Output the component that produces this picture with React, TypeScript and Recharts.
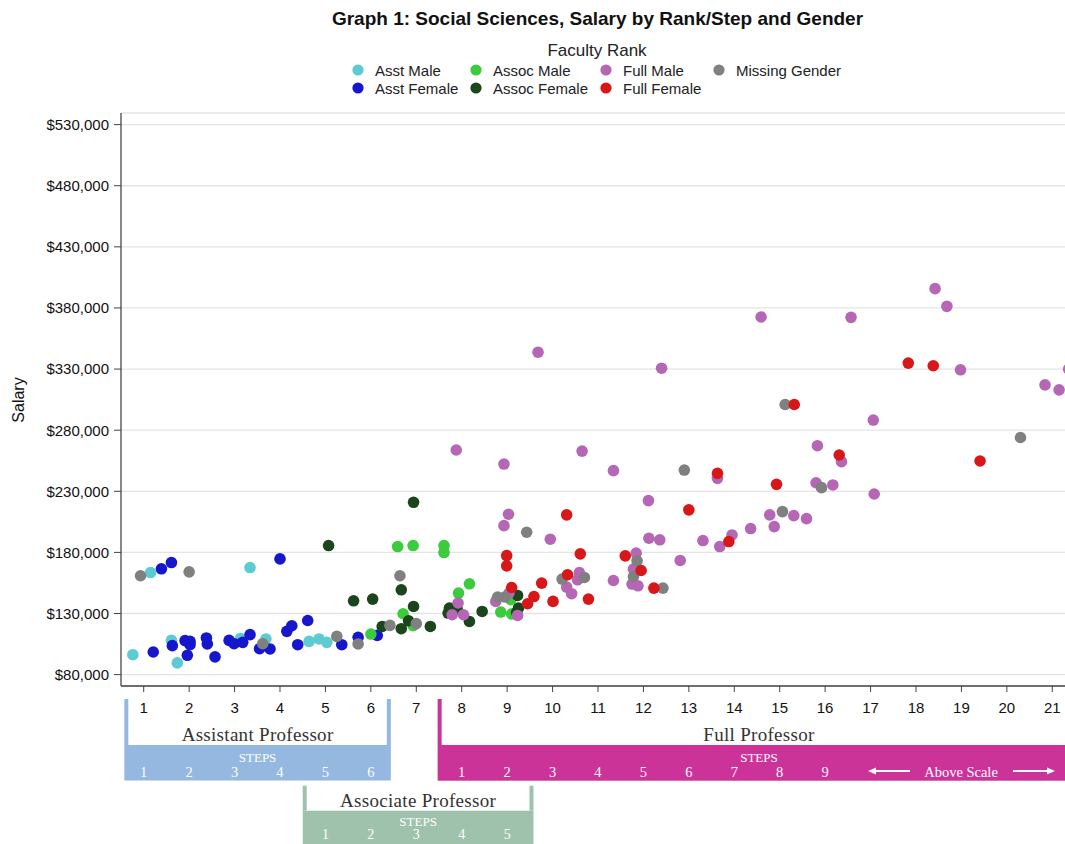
import React from "react";
import {
  ScatterChart,
  Scatter,
  XAxis,
  YAxis,
  CartesianGrid,
} from "recharts";

// [step, salary] pairs
const asstMale: [number, number][] = [
  [0.76, 96300], [1.15, 163500], [1.61, 108000], [1.74, 89600], [3.34, 167600],
  [3.13, 109600], [3.69, 109200], [4.64, 107200], [4.86, 109200], [5.03, 106400],
];

const asstFemale: [number, number][] = [
  [1.39, 166600], [1.61, 171700], [4.0, 174700], [1.21, 98500], [1.63, 103700],
  [1.91, 107800], [2.02, 107200], [2.02, 104500], [1.96, 95800], [2.38, 110000],
  [2.4, 105100], [2.57, 94500], [2.88, 108000], [2.99, 105300], [3.18, 106400],
  [3.34, 112700], [3.55, 101200], [3.78, 101000], [4.15, 115400], [4.26, 120000],
  [4.61, 124300], [4.39, 104500], [5.36, 104500], [5.72, 110500], [6.14, 112100],
];

const assocMale: [number, number][] = [
  [6.59, 184800], [6.93, 185600], [6.71, 129800], [6.0, 113200], [6.93, 120000],
  [7.61, 185600], [7.61, 179900], [8.17, 154300], [7.93, 146700], [8.86, 131200],
  [9.08, 141300], [9.1, 129600],
];

const assocFemale: [number, number][] = [
  [5.07, 185600], [5.62, 140400], [6.04, 141800], [6.67, 149400], [6.94, 135800],
  [6.25, 119400], [6.67, 117600], [6.83, 124100], [6.94, 221000], [7.31, 119400],
  [7.73, 134500], [7.7, 130400], [7.9, 133600], [8.17, 123500], [8.45, 131700],
  [9.23, 144800], [9.25, 134500], [9.21, 130900],
];

const fullMale: [number, number][] = [
  [9.03, 211200], [8.93, 201900], [9.95, 190800], [12.11, 222400], [12.12, 191600],
  [12.36, 190300], [12.81, 173400], [11.84, 179400], [11.78, 166300], [11.75, 154100],
  [11.88, 152700], [10.59, 163500], [10.55, 157600], [10.31, 151600], [10.42, 146200],
  [7.92, 138600], [7.79, 129000], [8.04, 129000], [8.75, 139900], [9.23, 128400],
  [9.04, 146700], [11.34, 246900], [11.34, 157000], [13.31, 189700], [13.68, 184800],
  [13.95, 194300], [14.36, 199500], [14.78, 210700], [14.88, 201100], [15.31, 210100],
  [15.59, 207600], [13.63, 240600], [15.8, 237000], [16.17, 235200], [16.36, 254200],
  [15.83, 267300], [17.08, 227800], [17.06, 288300], [9.68, 343800], [7.88, 263800],
  [8.93, 252300], [10.65, 262900], [12.4, 330700], [14.59, 372600], [16.57, 372300],
  [18.42, 395800], [18.68, 381300], [18.98, 329400], [20.84, 317100], [21.15, 313000],
  [21.36, 330000],
];

const fullFemale: [number, number][] = [
  [10.31, 210700], [8.99, 177400], [8.99, 169000], [10.61, 178800], [9.1, 151300],
  [9.76, 154900], [9.59, 143900], [9.45, 138000], [10.01, 139900], [10.33, 161700],
  [10.79, 141800], [11.6, 177200], [11.95, 165200], [12.23, 150800], [13.0, 214800],
  [13.63, 244700], [13.88, 188900], [14.93, 235700], [16.31, 259700], [17.83, 334900],
  [18.38, 332700], [15.32, 301000], [19.41, 254800],
];

const missingGender: [number, number][] = [
  [0.93, 160900], [2.0, 164100], [3.62, 105300], [5.25, 111300], [5.72, 105100],
  [6.64, 160900], [6.42, 120300], [7.0, 121700], [9.43, 196500], [8.79, 143500],
  [8.95, 143500], [10.21, 158200], [10.7, 159500], [11.86, 173100], [11.78, 160300],
  [12.43, 150800], [12.9, 247400], [15.06, 213400], [15.92, 233000], [15.12, 301000],
  [20.3, 274000],
];

const xTicks = [1, 2, 3, 4, 5, 6, 7, 8, 9, 10, 11, 12, 13, 14, 15, 16, 17, 18, 19, 20, 21];
const yTicks = [80000, 130000, 180000, 230000, 280000, 330000, 380000, 430000, 480000, 530000];

const asstSteps = ["1", "2", "3", "4", "5", "6"];
const assocSteps = ["1", "2", "3", "4", "5"];
const fullSteps = ["1", "2", "3", "4", "5", "6", "7", "8", "9"];

const series = [
  { name: "Asst Male", data: asstMale, color: "#5ccbd2" },
  { name: "Asst Female", data: asstFemale, color: "#1616cc" },
  { name: "Assoc Male", data: assocMale, color: "#3ccb3c" },
  { name: "Assoc Female", data: assocFemale, color: "#1b451b" },
  { name: "Full Male", data: fullMale, color: "#b566b5" },
  { name: "Missing Gender", data: missingGender, color: "#808080" },
  { name: "Full Female", data: fullFemale, color: "#d81818" },
];

const legendRows = [
  [
    { name: "Asst Male", x: 358 },
    { name: "Assoc Male", x: 476 },
    { name: "Full Male", x: 606 },
    { name: "Missing Gender", x: 719 },
  ],
  [
    { name: "Asst Female", x: 358 },
    { name: "Assoc Female", x: 476 },
    { name: "Full Female", x: 606 },
  ],
];

const W = 1065;
const H = 844;
const X_MIN = 0.5;
const X_MAX = 21.28;
const PLOT_LEFT = 121;
const PLOT_RIGHT = W;

const SANS = "'Liberation Sans', Arial, sans-serif";
const SERIF = "'Liberation Serif', 'Times New Roman', serif";

const BLUE = "#94b8e0";
const GREEN = "#9fc2ac";
const MAGENTA = "#cc3399";

const xPx = (v: number) =>
  PLOT_LEFT + ((v - X_MIN) / (X_MAX - X_MIN)) * (PLOT_RIGHT - PLOT_LEFT);

const fmtMoney = (v: number) => "$" + v.toLocaleString("en-US");

const colorOf = (name: string) => series.find((s) => s.name === name)!.color;

const Dot = (color: string) => (p: any) =>
  <circle cx={p.cx} cy={p.cy} r={5.8} fill={color} />;

// bracket below the axis: side bars + filled band with step numbers
const Bracket = ({
  from, to, barTop, bandTop, bandBottom, color, title, steps, stepStart, bothSides,
  center, stepsDy = 16.5, numsDy = 32, numSize = 14.5,
}: {
  from: number; to: number; barTop: number; bandTop: number; bandBottom: number;
  color: string; title: string; steps: string[]; stepStart: number; bothSides: boolean;
  center?: number; stepsDy?: number; numsDy?: number; numSize?: number;
}) => {
  const x1 = xPx(from);
  const x2 = Math.min(xPx(to), W);
  const mid = center ?? (x1 + x2) / 2;
  return (
    <g>
      <rect x={x1} y={barTop} width={4} height={bandTop - barTop} fill={color} />
      {bothSides && (
        <rect x={x2 - 4} y={barTop} width={4} height={bandTop - barTop} fill={color} />
      )}
      <rect x={x1} y={bandTop} width={x2 - x1} height={bandBottom - bandTop} fill={color} />
      <text x={mid} y={bandTop - 4} textAnchor="middle" fontFamily={SERIF}
        fontSize={19} letterSpacing={0.3} fill="#333">{title}</text>
      <text x={mid} y={bandTop + stepsDy} textAnchor="middle" fontFamily={SERIF}
        fontSize={13} fill="#fff">STEPS</text>
      {steps.map((s, i) => (
        <text key={s} x={xPx(stepStart + i)} y={bandTop + numsDy} textAnchor="middle"
          fontFamily={SERIF} fontSize={numSize} fill="#fff">{s}</text>
      ))}
    </g>
  );
};

export default function App() {
  return (
    <div style={{ position: "absolute", left: 0, top: 0, width: W, height: H, background: "#fff" }}>
      <ScatterChart
        width={W}
        height={H}
        margin={{ top: 113, right: 0, bottom: 128, left: 0 }}
      >
        <CartesianGrid vertical={false} stroke="#e4e4e4" strokeWidth={1.3} />
        <XAxis
          type="number"
          dataKey="x"
          domain={[X_MIN, X_MAX]}
          ticks={xTicks}
          allowDataOverflow
          height={30}
          tickSize={6}
          tickMargin={10}
          tick={{ fontSize: 15, fill: "#111", fontFamily: SANS }}
          axisLine={{ stroke: "#444", strokeWidth: 1.4 }}
          tickLine={{ stroke: "#444" }}
        />
        <XAxis
          xAxisId="top"
          orientation="top"
          type="number"
          domain={[X_MIN, X_MAX]}
          height={0}
          tick={false}
          tickLine={false}
          axisLine={{ stroke: "#666", strokeWidth: 1.3 }}
        />
        <YAxis
          type="number"
          dataKey="y"
          domain={[70700, 539500]}
          ticks={yTicks}
          allowDataOverflow
          width={121}
          tickSize={7}
          tickMargin={5}
          tickFormatter={fmtMoney}
          tick={{ fontSize: 15, fill: "#111", fontFamily: SANS }}
          axisLine={{ stroke: "#555", strokeWidth: 1.4 }}
          tickLine={{ stroke: "#444" }}
        />
        {series.map((s) => (
          <Scatter
            key={s.name}
            name={s.name}
            data={s.data.map(([x, y]) => ({ x, y }))}
            fill={s.color}
            shape={Dot(s.color)}
            isAnimationActive={false}
          />
        ))}
      </ScatterChart>

      <svg
        width={W}
        height={H}
        style={{ position: "absolute", left: 0, top: 0, pointerEvents: "none" }}
      >
        <text x={597.5} y={25} textAnchor="middle" fontFamily={SANS} fontSize={19}
          fontWeight="bold" fill="#111">
          Graph 1: Social Sciences, Salary by Rank/Step and Gender
        </text>
        <text x={597} y={56} textAnchor="middle" fontFamily={SANS} fontSize={17} fill="#222">
          Faculty Rank
        </text>
        {legendRows.map((row, r) =>
          row.map((it) => (
            <g key={it.name}>
              <circle cx={it.x} cy={70 + r * 18} r={5.6} fill={colorOf(it.name)} />
              <text x={it.x + 17} y={75.5 + r * 18} fontFamily={SANS} fontSize={15} fill="#222">
                {it.name}
              </text>
            </g>
          ))
        )}
        <text x={0} y={0} transform="translate(23.5 400) rotate(-90)" textAnchor="middle"
          fontFamily={SANS} fontSize={16} fill="#111">Salary</text>

        <Bracket from={0.573} to={6.44} barTop={699} bandTop={745} bandBottom={780.5}
          color={BLUE} title="Assistant Professor" steps={asstSteps} stepStart={1} bothSides />
        <Bracket from={4.5} to={9.58} barTop={785.7} bandTop={810.7} bandBottom={850}
          color={GREEN} title="Associate Professor" steps={assocSteps} stepStart={5} bothSides
          stepsDy={15} numsDy={28.5} numSize={14} />
        <Bracket from={7.47} to={30} barTop={699} bandTop={745} bandBottom={780.7}
          color={MAGENTA} title="Full Professor" steps={fullSteps} stepStart={8}
          bothSides={false} center={759} />
        <g stroke="#fff" strokeWidth={2} fill="#fff">
          <line x1={872} y1={771} x2={910} y2={771} />
          <polygon points="868,771 876,767.5 876,774.5" stroke="none" />
          <line x1={1013} y1={771} x2={1051} y2={771} />
          <polygon points="1055,771 1047,767.5 1047,774.5" stroke="none" />
        </g>
        <text x={961} y={777} textAnchor="middle" fontFamily={SERIF} fontSize={14.5}
          fill="#fff">Above Scale</text>
      </svg>
    </div>
  );
}
